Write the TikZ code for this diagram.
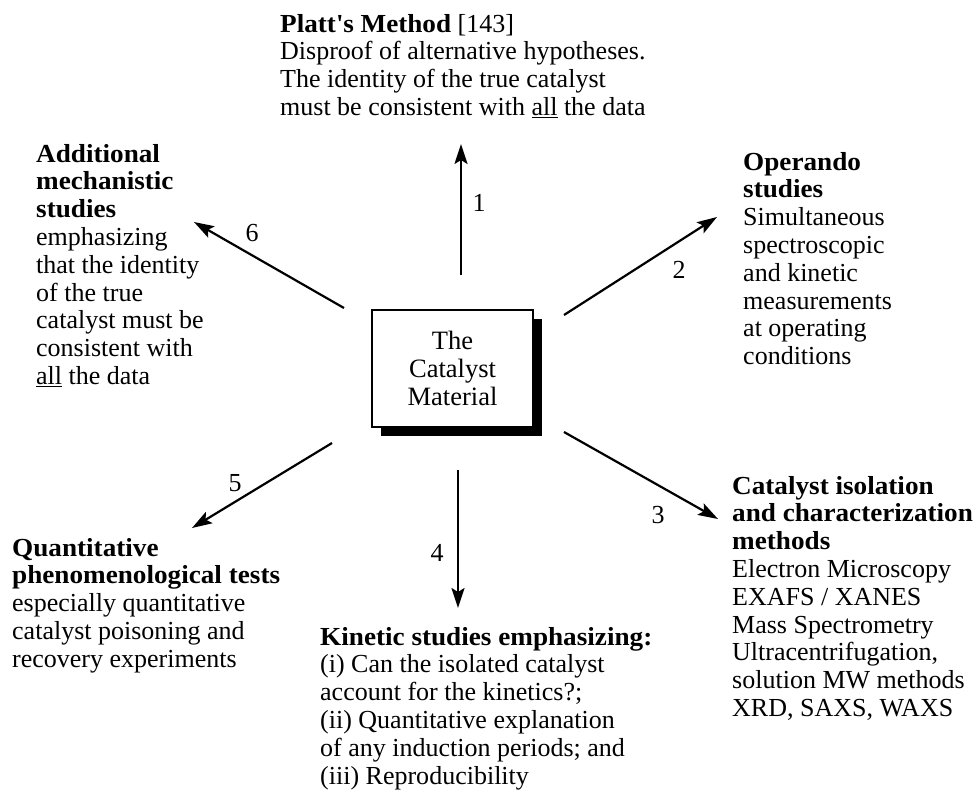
\documentclass[tikz,border=0pt]{standalone}
\usepackage{fontspec}
\setmainfont{Liberation Serif}[BoldFeatures={FakeStretch=1.045}]
\usetikzlibrary{arrows.meta,shadows}
\begin{document}
\begin{tikzpicture}[x=1pt,y=-1pt,
  txt/.style={anchor=base west, inner sep=0pt, font=\fontsize{26}{27.8}\selectfont},
  num/.style={inner sep=0pt, font=\fontsize{26}{27.8}\selectfont},
  arr/.style={line width=2.2pt, -{Stealth[length=20pt,width=13pt,inset=4pt]}},
  cbox/.style={draw, line width=1.5pt, fill=white, minimum width=161pt, minimum height=117pt,
    inner sep=0pt, align=center, font=\fontsize{26.5}{28}\selectfont,
    drop shadow={shadow xshift=9pt, shadow yshift=-9pt, opacity=1, fill=black}}]
\useasboundingbox (0,0) rectangle (976,793);

\node[cbox] (cat) at (452.5,368.5) {The\\Catalyst\\Material};

\node[txt] (platt) at (280,32) {\begin{tabular}[t]{@{}l@{}}\textbf{Platt\textquotesingle s Method} [143]\\
Disproof of alternative hypotheses.\\
The identity of the true catalyst\\
must be consistent with \underline{all} the data\end{tabular}};

\node[txt] (oper) at (743,170) {\begin{tabular}[t]{@{}l@{}}\textbf{Operando}\\ \textbf{studies}\\
Simultaneous\\ spectroscopic\\ and kinetic\\ measurements\\ at operating\\ conditions\end{tabular}};

\node[txt] (iso) at (732,494) {\begin{tabular}[t]{@{}l@{}}\textbf{Catalyst isolation}\\ \textbf{and characterization}\\ \textbf{methods}\\
Electron Microscopy\\ EXAFS / XANES\\ Mass Spectrometry\\ Ultracentrifugation,\\ solution MW methods\\ XRD, SAXS, WAXS\end{tabular}};

\node[txt] (kin) at (320,645) {\begin{tabular}[t]{@{}l@{}}\textbf{Kinetic studies emphasizing:}\\
(i) Can the isolated catalyst\\ account for the kinetics?;\\ (ii) Quantitative explanation\\ of any induction periods; and\\ (iii) Reproducibility\end{tabular}};

\node[txt] (quant) at (12,556) {\begin{tabular}[t]{@{}l@{}}\textbf{Quantitative}\\ \textbf{phenomenological tests}\\
especially quantitative\\ catalyst poisoning and\\ recovery experiments\end{tabular}};

\node[txt] (add) at (36,162) {\begin{tabular}[t]{@{}l@{}}\textbf{Additional}\\ \textbf{mechanistic}\\ \textbf{studies}\\
emphasizing\\ that the identity\\ of the true\\ catalyst must be\\ consistent with\\ \underline{all} the data\end{tabular}};

\coordinate (a1s) at (461,275); \coordinate (a1e) at (461,144);
\coordinate (a2s) at (564,315); \coordinate (a2e) at (717,217);
\coordinate (a3s) at (564,432); \coordinate (a3e) at (718,519);
\coordinate (a4s) at (458,470); \coordinate (a4e) at (458,608);
\coordinate (a5s) at (332,443); \coordinate (a5e) at (192,528);
\coordinate (a6s) at (344,308); \coordinate (a6e) at (194,222);

\draw[arr] (a1s) -- (a1e);
\draw[arr] (a2s) -- (a2e);
\draw[arr] (a3s) -- (a3e);
\draw[arr] (a4s) -- (a4e);
\draw[arr] (a5s) -- (a5e);
\draw[arr] (a6s) -- (a6e);

\node[num] (n1) at (479,203) {1};
\node[num] (n2) at (679,270) {2};
\node[num] (n3) at (658,515) {3};
\node[num] (n4) at (437,553) {4};
\node[num] (n5) at (235,483) {5};
\node[num] (n6) at (252,233) {6};
\end{tikzpicture}
\end{document}
